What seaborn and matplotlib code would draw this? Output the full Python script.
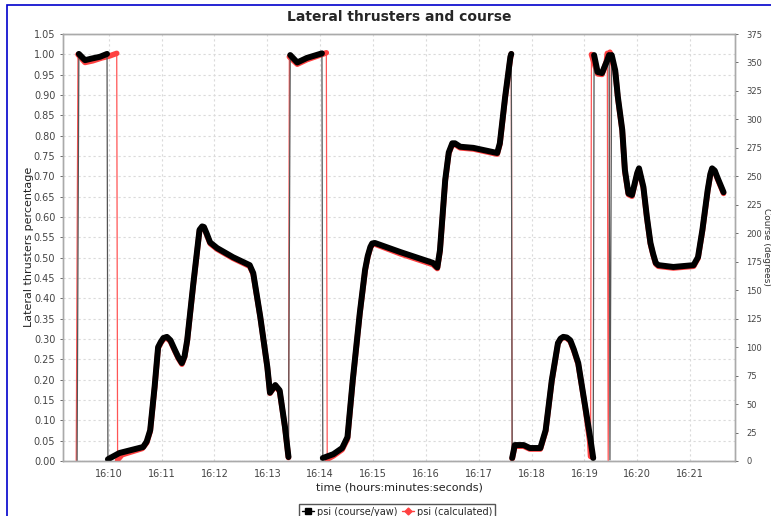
import matplotlib
matplotlib.use("Agg")
import matplotlib.pyplot as plt
import pandas as pd
import seaborn as sns
from matplotlib.lines import Line2D
from matplotlib.patches import Rectangle

# psi (course/yaw): seconds after 16:00:00, course in degrees
psi_yaw_time = [564, 566, 573, 581, 590, 598,
                599, 612, 639, 643, 647, 652, 656, 659, 662, 666, 670, 675, 679, 683,
                686, 689, 696, 703, 706, 708, 711, 715,
                723, 741, 760, 764, 772, 780, 783, 789, 794, 800, 804,
                806, 814, 825, 842,
                843, 855, 865, 871, 877, 885, 891, 894, 897, 899, 902, 931, 968, 973,
                976, 982, 986, 990, 993, 999, 1014, 1041, 1044, 1050, 1056, 1057,
                1058, 1061, 1071, 1078, 1090, 1096, 1103, 1110, 1113, 1116, 1120, 1124,
                1128, 1133, 1141, 1147, 1150,
                1151, 1155, 1160, 1166, 1168,
                1169,
                1171, 1175, 1178, 1183, 1186, 1190, 1194, 1200, 1202, 1207, 1211, 1215,
                1218, 1221, 1224, 1241, 1264, 1269, 1274, 1280, 1283, 1285, 1288, 1291,
                1298]
psi_yaw_deg = [0.5, 357.5, 352, 353.5, 355, 357.5,
               1.5, 7, 12.3, 17, 27, 65, 100, 104.5, 108, 109, 106, 97.5, 91, 86,
               92, 106, 156, 203, 206, 205.5, 200, 192,
               187, 179, 172, 165, 126.5, 82.5, 60, 66.7, 62, 30, 3.5,
               356.5, 350, 354, 358,
               2.6, 6, 11.4, 21, 71, 130, 168, 180, 188, 191, 191.5, 183.5, 174, 170,
               185, 247, 271, 279, 279, 276, 275, 270.5, 279, 319.7, 355, 357.5,
               2.6, 14, 14, 11.4, 11.4, 27, 71, 103.6, 107.5, 109, 108.5, 106,
               98, 86, 47.4, 18.4, 2.6,
               356.5, 341.6, 340.7, 352, 356.5,
               1,
               356.5, 343, 319.7, 290.7, 255.5, 235, 233.6, 253, 257, 240.6, 214, 191.5,
               182, 174, 172, 170.4, 172, 179, 203, 238, 252, 257, 255, 249,
               236]

# psi (calculated)
psi_calc_time = [563, 565, 573, 582, 592, 600, 609,
                 610, 615, 638, 643, 647, 652, 656, 659, 662, 666, 670, 675, 679, 683,
                 686, 689, 696, 703, 706, 708, 711, 715,
                 723, 741, 760, 764, 772, 780, 783, 789, 794, 800, 804,
                 805, 814, 825, 842, 847,
                 848, 855, 865, 871, 877, 885, 891, 894, 897, 899, 902, 931, 968, 973,
                 976, 982, 986, 990, 993, 999, 1014, 1041, 1044, 1050, 1056, 1057,
                 1058, 1061, 1071, 1078, 1090, 1096, 1103, 1110, 1113, 1116, 1120, 1124,
                 1128, 1133, 1141, 1146, 1147,
                 1148, 1155, 1160, 1165, 1166,
                 1167,
                 1169, 1175, 1178, 1183, 1186, 1190, 1194, 1200, 1202, 1207, 1211, 1215,
                 1218, 1221, 1224, 1241, 1264, 1269, 1274, 1280, 1283, 1285, 1288, 1291,
                 1298]
psi_calc_deg = [0.5, 357, 350, 351.5, 354, 355.5, 358,
                1, 5.5, 11, 16, 26, 64, 99, 103.5, 107, 108, 105, 96.5, 90, 85,
                91, 105, 155, 202, 205, 205, 199, 191,
                186, 178, 171, 164, 126, 82, 59.5, 66, 61, 29.5, 3,
                355, 348.5, 352.5, 357, 358.5,
                1.5, 4.5, 10, 19.5, 70, 129, 167, 179, 187, 190, 190.5, 182, 172.5, 169,
                184, 246, 270, 278, 278, 275, 274, 269.5, 278, 318.5, 354, 357.5,
                2, 13, 13, 10.5, 10.5, 26, 70, 103, 107, 108.5, 108, 105,
                97, 85, 46.5, 17.5, 4,
                357, 340, 339.5, 351, 358,
                0.5,
                359, 342, 318.5, 289.5, 254, 234, 232.5, 252, 256, 239.5, 213, 190.5,
                181, 173, 171, 169.5, 171, 178, 202, 237, 251, 256, 254, 248,
                235]

# lateral thrusters (percentage) - flat at zero
thruster_time = [564, 1298]
thruster_pct = [0.0, 0.0]

tick_times = [600, 660, 720, 780, 840, 900, 960, 1020, 1080, 1140, 1200, 1260]
tick_labels = ["16:10", "16:11", "16:12", "16:13", "16:14", "16:15",
               "16:16", "16:17", "16:18", "16:19", "16:20", "16:21"]


def to_frame(t, deg):
    df = pd.DataFrame({"t": t, "deg": deg})
    # new segment every time the heading wraps around 0/360
    df["seg"] = (df["deg"].diff().abs() > 180).cumsum()
    return df


yaw = to_frame(psi_yaw_time, psi_yaw_deg)
calc = to_frame(psi_calc_time, psi_calc_deg)
thr = pd.DataFrame({"t": thruster_time, "pct": thruster_pct})

sns.set_style("white")
plt.rcParams["font.family"] = ["DejaVu Sans"]

fig = plt.figure(figsize=(7.71, 5.16), dpi=100)
ax = fig.add_axes([63 / 771, 1 - 461 / 516, 672 / 771, 427 / 516])
ax2 = ax.twinx()

grid_kw = dict(color="#dadada", lw=0.8, ls=(0, (2, 2.5)))
ax.grid(True, axis="both", **grid_kw)
ax.set_axisbelow(True)

sns.lineplot(data=thr, x="t", y="pct", ax=ax, color="#8888cc", lw=0.8,
             ls=(0, (1, 1)), legend=False)

# red first, black on top; thin line shows the wrap jumps
sns.lineplot(data=calc, x="t", y="deg", ax=ax2, estimator=None, color="#ff5555",
             lw=0.9, legend=False)
sns.lineplot(data=calc, x="t", y="deg", units="seg", estimator=None, ax=ax2,
             color="#ff4040", lw=4.0, legend=False)
sns.lineplot(data=yaw, x="t", y="deg", ax=ax2, estimator=None, color="#555555",
             lw=0.9, legend=False)
sns.lineplot(data=yaw, x="t", y="deg", units="seg", estimator=None, ax=ax2,
             color="black", lw=4.3, legend=False)

ax.set_xlim(548, 1311)
ax.set_ylim(0, 1.05)
ax2.set_ylim(0, 375)
ax.set_xticks(tick_times)
ax.set_xticklabels(tick_labels)
ax.set_yticks([i * 0.05 for i in range(22)])
ax.set_yticklabels(["%.2f" % (i * 0.05) for i in range(22)])
ax2.set_yticks(list(range(0, 376, 25)))
ax.set_xlabel("")
ax.set_ylabel("")
ax2.set_xlabel("")
ax2.set_ylabel("")

ax.tick_params(axis="both", labelsize=7, colors="#555555", length=2, width=0.6,
               labelcolor="#444444")
ax2.tick_params(axis="y", labelsize=6, colors="#555555", length=2, width=0.6,
                labelcolor="#444444", pad=6)
for a in (ax, ax2):
    for s in a.spines.values():
        s.set_color("#aaaaaa")
        s.set_linewidth(1.0)

fig.text(399 / 771, 1 - 17 / 516, "Lateral thrusters and course", ha="center",
         va="center", fontsize=10, fontweight="bold")
fig.text(399 / 771, 1 - 487 / 516, "time (hours:minutes:seconds)", ha="center",
         va="center", fontsize=8, color="#222222")
fig.text(29 / 771, 1 - 247 / 516, "Lateral thrusters percentage", ha="center",
         va="center", rotation=90, fontsize=8, color="#222222")
fig.text(766 / 771, 1 - 247 / 516, "Course (degrees)", ha="center",
         va="center", rotation=270, fontsize=6.5, color="#333333")

handles = [Line2D([], [], color="black", lw=1, marker="s", markersize=5),
           Line2D([], [], color="#ff4040", lw=1, marker="D", markersize=3.5)]
fig.legend(handles, ["psi (course/yaw)", "psi (calculated)"], loc="upper center",
           bbox_to_anchor=(397 / 771, 1 - 499 / 516), ncol=2, fontsize=7,
           frameon=True, fancybox=False, edgecolor="#555555", handlelength=1.2,
           handletextpad=0.3, columnspacing=0.5, borderpad=0.3, framealpha=1)

fig.patches.append(Rectangle((7 / 771, -0.1), 1.0, 1.1 - 5 / 516,
                             transform=fig.transFigure, fill=False,
                             edgecolor="#0000cc", lw=1.2))

fig.savefig("out.png", dpi=100)
